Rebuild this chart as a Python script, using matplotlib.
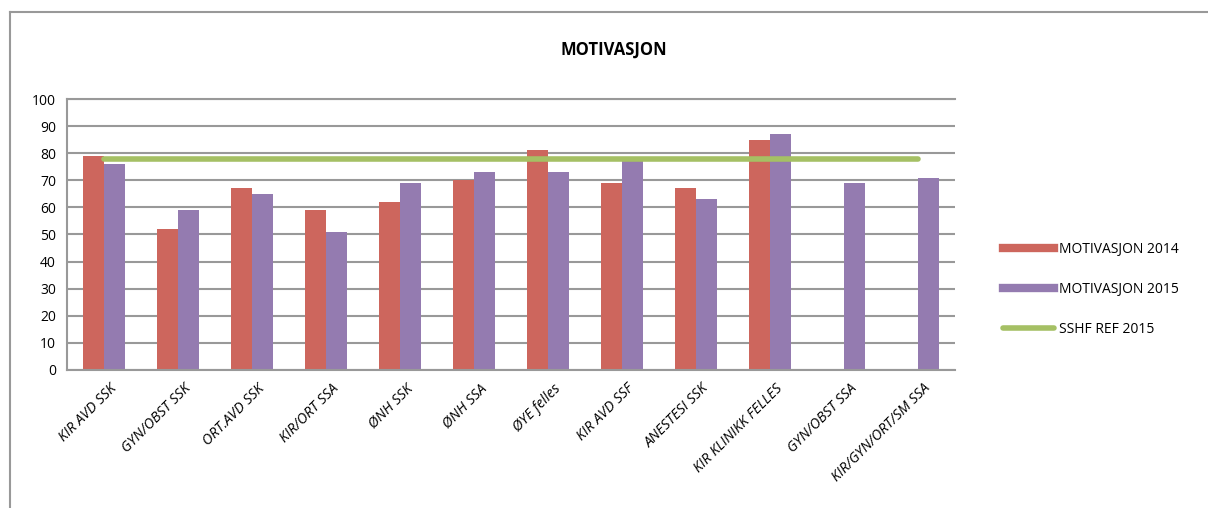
import matplotlib.pyplot as plt
import matplotlib.transforms as mtransforms
import numpy as np
from matplotlib.lines import Line2D

categories = ['KIR AVD SSK', 'GYN/OBST SSK', 'ORT.AVD SSK', 'KIR/ORT SSA', 'ØNH SSK', 'ØNH SSA',
              'ØYE felles', 'KIR AVD SSF', 'ANESTESI SSK', 'KIR KLINIKK FELLES', 'GYN/OBST SSA',
              'KIR/GYN/ORT/SM SSA']
motivasjon_2014 = [79, 52, 67, 59, 62, 70, 81, 69, 67, 85, np.nan, np.nan]
motivasjon_2015 = [76, 59, 65, 51, 69, 73, 73, 78, 63, 87, 69, 71]
sshf_ref_2015 = [78] * 12

plt.rcParams['font.family'] = ['Open Sans', 'DejaVu Sans']

fig = plt.figure(figsize=(12.08, 5.08), dpi=100)
ax = fig.add_axes([0.0555, 0.2717, 0.7351, 0.5334])

x = np.arange(len(categories))
w = 0.28
ax.bar(x - w / 2, motivasjon_2014, w, color='#CD665D', label='MOTIVASJON 2014')
ax.bar(x + w / 2, motivasjon_2015, w, color='#947BB0', label='MOTIVASJON 2015')
ax.plot(x, sshf_ref_2015, color='#A5C064', lw=4, solid_capstyle='round', label='SSHF REF 2015')

ax.set_xlim(-0.5, len(categories) - 0.5)
ax.set_ylim(0, 100)
ax.set_yticks(range(0, 101, 10))
ax.yaxis.grid(True, color='#999999', lw=1.5)
ax.set_axisbelow(True)
ax.spines['right'].set_visible(False)
for s in ['left', 'bottom', 'top']:
    ax.spines[s].set_color('#999999')
    ax.spines[s].set_linewidth(1.5)
ax.tick_params(length=0, labelsize=10, pad=8)
ax.set_xticks(x)
ax.set_xticklabels(categories, rotation=45, ha='right', rotation_mode='anchor',
                   fontsize=10.3, style='italic')
shift = mtransforms.ScaledTranslation(5 / 100, 0, fig.dpi_scale_trans)
for lbl in ax.get_xticklabels():
    lbl.set_transform(lbl.get_transform() + shift)

fig.text(0.508, 0.903, 'MOTIVASJON', ha='center', va='center', fontsize=12, fontweight='bold')

handles = [Line2D([], [], color='#CD665D', lw=6),
           Line2D([], [], color='#947BB0', lw=6),
           Line2D([], [], color='#A5C064', lw=4, solid_capstyle='round')]
fig.legend(handles, ['MOTIVASJON 2014', 'MOTIVASJON 2015', 'SSHF REF 2015'],
           loc='center left', bbox_to_anchor=(0.82, 0.43), frameon=False, fontsize=10,
           handlelength=3.7, labelspacing=1.8, handletextpad=0.3)

# chart frame
fig.add_artist(Line2D([10 / 1208, 10 / 1208], [0, 1 - 12 / 508], color='#999999', lw=1.5,
                      transform=fig.transFigure))
fig.add_artist(Line2D([10 / 1208, 1], [1 - 12 / 508, 1 - 12 / 508], color='#999999', lw=1.5,
                      transform=fig.transFigure))

fig.savefig('out.png')
